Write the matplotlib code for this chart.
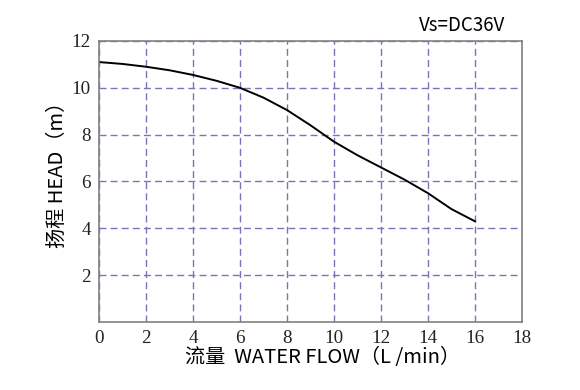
import matplotlib
matplotlib.use("Agg")
import matplotlib.pyplot as plt
import numpy as np

flow = [0, 1, 2, 3, 4, 5, 6, 7, 8, 9, 10, 11, 12, 13, 14, 15, 16]
head = [11.1, 11.02, 10.9, 10.75, 10.55, 10.3, 10.0, 9.58, 9.05, 8.4, 7.7, 7.12, 6.6, 6.08, 5.5, 4.82, 4.3]
xticks = [0, 2, 4, 6, 8, 10, 12, 14, 16, 18]
yticks = [2, 4, 6, 8, 10, 12]

fig = plt.figure(figsize=(5.8, 3.9), dpi=100)
ax = fig.add_axes([0.1707, 0.1744, 0.7293, 0.7205])
ax.plot(flow, head, color="black", lw=1.4)
ax.set_xlim(0, 18)
ax.set_ylim(0, 12)
ax.set_xticks(xticks)
ax.set_yticks(yticks)
ax.grid(True, color="#7676b8", linestyle=(0, (5, 3)), lw=1.0)
ax.tick_params(length=0, pad=6)
for lab in ax.get_xticklabels() + ax.get_yticklabels():
    lab.set_family("Liberation Serif")
    lab.set_fontsize(13.7)
    lab.set_color("#222222")
for s in ax.spines.values():
    s.set_color("#808080")
    s.set_linewidth(1.2)

fam = ["Noto Sans CJK SC", "DejaVu Sans"]
fig.text(323 / 580, 1 - 357 / 390, "流量  WATER FLOW（L /min）", family=fam,
         fontsize=14.5, ha="center", va="center")
fig.text(57 / 580, 1 - 170 / 390, "扬程 HEAD（m）", family=fam, fontsize=14.5,
         ha="center", va="center", rotation=90)
fig.text(0.797, 0.935, "Vs=DC36V", family=fam, fontsize=13.5, ha="center", va="center")

fig.savefig("out.png", dpi=100, facecolor="white")
